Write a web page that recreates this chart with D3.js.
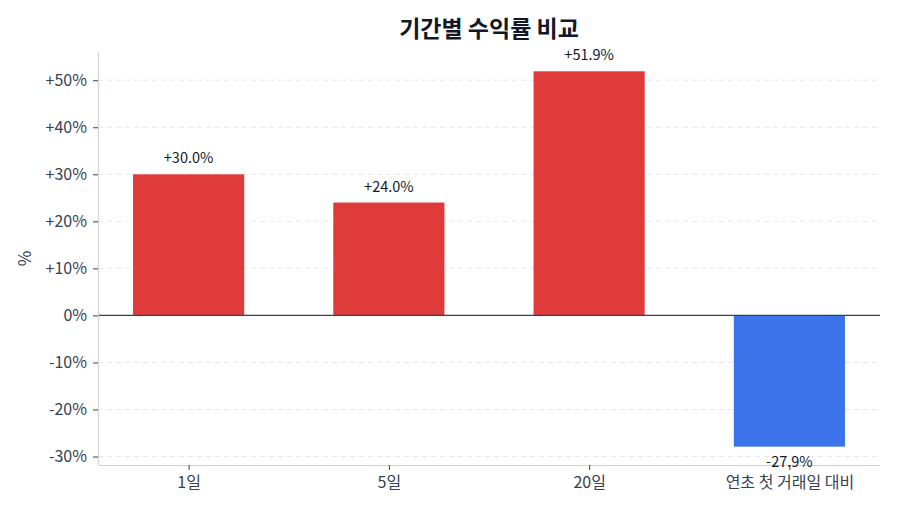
<!DOCTYPE html>
<html>
<head>
<meta charset="utf-8">
<script src="https://cdn.jsdelivr.net/npm/d3@7"></script>
<style>
  body { margin: 0; background: #fff; }
  text { font-family: "Noto Sans CJK KR", "Noto Sans", sans-serif; }
</style>
</head>
<body>
<script>
// 기간별 수익률 데이터
var categories = ["1일", "5일", "20일", "연초 첫 거래일 대비"];
var returns = [30.0, 24.0, 51.9, -27.9];
var yTicks = [-30, -20, -10, 0, 10, 20, 30, 40, 50];

var margin = { top: 52, right: 20, bottom: 49, left: 98 },
    width = 900 - margin.left - margin.right,
    height = 514 - margin.top - margin.bottom;

var svg = d3.select("body")
    .append("svg")
    .attr("width", 900)
    .attr("height", 514);

var g = svg.append("g")
    .attr("transform", "translate(" + margin.left + "," + margin.top + ")");

var barW = 0.555;
var x = d3.scaleLinear()
    .domain([-0.4525, 3.4525])
    .range([0, width]);

var y = d3.scaleLinear()
    .domain([-31.8, 56.0])
    .range([height, 0]);

// grid
g.selectAll(".grid")
    .data(yTicks.filter(function (d) { return d != 0; }))
    .enter().append("line")
    .attr("x1", 0).attr("x2", width)
    .attr("y1", function (d) { return y(d); })
    .attr("y2", function (d) { return y(d); })
    .attr("stroke", "#e5e7eb")
    .attr("stroke-width", 1)
    .attr("stroke-dasharray", "5,4");

// bars
g.selectAll(".bar")
    .data(returns)
    .enter().append("rect")
    .attr("x", function (d, i) { return x(i - barW / 2); })
    .attr("width", x(barW) - x(0))
    .attr("y", function (d) { return y(Math.max(0, d)); })
    .attr("height", function (d) { return Math.abs(y(d) - y(0)); })
    .attr("fill", function (d) { return d >= 0 ? "#e03b3b" : "#3b73eb"; });

// zero line
g.append("line")
    .attr("x1", 0).attr("x2", width)
    .attr("y1", y(0)).attr("y2", y(0))
    .attr("stroke", "#374151")
    .attr("stroke-width", 1.3);

// axes
var yAxis = g.append("g")
    .call(d3.axisLeft(y).tickValues(yTicks).tickSize(5).tickPadding(6)
        .tickFormat(function (d) { return (d > 0 ? "+" : "") + d + "%"; }));
var xAxis = g.append("g")
    .attr("transform", "translate(0," + height + ")")
    .call(d3.axisBottom(x).tickValues(d3.range(categories.length)).tickSize(5).tickPadding(7)
        .tickFormat(function (i) { return categories[i]; }));

[yAxis, xAxis].forEach(function (a) {
    a.select(".domain").attr("stroke", "#cbd5e1").attr("stroke-width", 1.2);
    a.selectAll(".tick line").attr("stroke", "#374151");
    a.selectAll(".tick text")
        .style("font-family", '"Noto Sans CJK KR", sans-serif')
        .style("font-size", "16px")
        .attr("fill", "#374151");
});
yAxis.select(".domain").attr("d", "M0.5," + height + "V0.5");
xAxis.select(".domain").attr("d", "M0.5,0.5H" + width);

// value labels
g.selectAll(".val")
    .data(returns)
    .enter().append("text")
    .attr("x", function (d, i) { return x(i); })
    .attr("y", function (d) { return d >= 0 ? y(d) - 11 : y(d) + 20; })
    .attr("text-anchor", "middle")
    .style("font-size", "14.5px")
    .attr("fill", "#111827")
    .text(function (d) { return (d > 0 ? "+" : "") + d.toFixed(1) + "%"; });

// Y label
g.append("text")
    .attr("text-anchor", "middle")
    .attr("transform", "translate(-67," + (height / 2) + ")rotate(-90)")
    .style("font-size", "17px")
    .attr("fill", "#374151")
    .text("%");

// title
svg.append("text")
    .attr("x", margin.left + width / 2)
    .attr("y", 37)
    .attr("text-anchor", "middle")
    .style("font-size", "23px")
    .style("font-weight", "bold")
    .attr("fill", "#111827")
    .text("기간별 수익률 비교");
</script>
</body>
</html>
